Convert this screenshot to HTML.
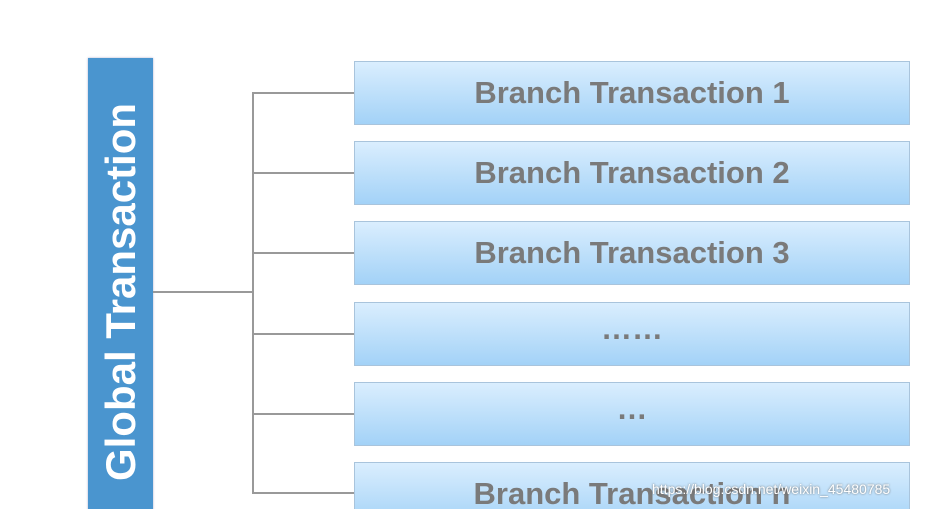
<!DOCTYPE html>
<html><head><style>
html,body{margin:0;width:934px;height:509px;background:#fff;overflow:hidden;position:relative;font-family:"Liberation Sans",sans-serif}
.bar{position:absolute;left:88px;top:58px;width:65px;height:460px;background:#4a95cf;box-shadow:0 0 2px #aac}
.bar span{position:absolute;left:-167px;top:212px;width:400px;height:44px;line-height:44px;text-align:center;transform:rotate(-90deg);white-space:nowrap;color:#fff;font-weight:bold;font-size:42px}
.box{position:absolute;left:354px;width:556px;height:64px;border:1px solid #a9c4dc;background:linear-gradient(#daeefe,#a3d2f7);color:#7a7a7a;font-weight:bold;font-size:31px;text-align:center;line-height:62px;box-sizing:border-box}
.l{position:absolute;background:#999}
.wm{position:absolute;left:652px;top:481px;color:#fff;font-size:14px;text-shadow:0 0 2px #666}
</style></head><body>
<div class="bar"><span>Global Transaction</span></div>
<div class="l" style="left:153px;top:291px;width:100px;height:2px"></div>
<div class="l" style="left:252px;top:92px;width:2px;height:402px"></div>
<div class="l" style="left:252px;top:92px;width:102px;height:2px"></div>
<div class="l" style="left:252px;top:172px;width:102px;height:2px"></div>
<div class="l" style="left:252px;top:252px;width:102px;height:2px"></div>
<div class="l" style="left:252px;top:333px;width:102px;height:2px"></div>
<div class="l" style="left:252px;top:413px;width:102px;height:2px"></div>
<div class="l" style="left:252px;top:492px;width:102px;height:2px"></div>
<div class="box" style="top:61px">Branch Transaction 1</div>
<div class="box" style="top:141px">Branch Transaction 2</div>
<div class="box" style="top:221px">Branch Transaction 3</div>
<div class="box" style="top:302px;line-height:52px">……</div>
<div class="box" style="top:382px;line-height:52px">…</div>
<div class="box" style="top:462px">Branch Transaction n</div>
<div class="wm">https://blog.csdn.net/weixin_45480785</div>
</body></html>
